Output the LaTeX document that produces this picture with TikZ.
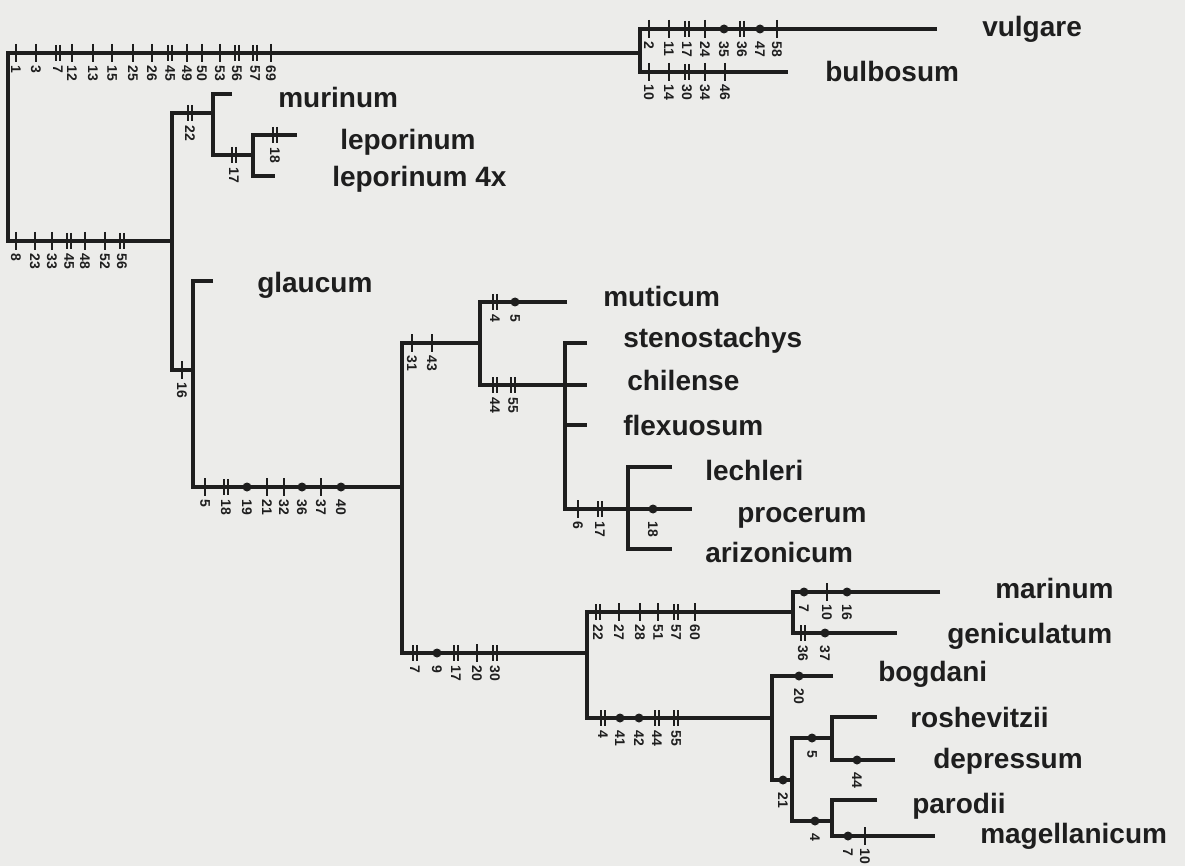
\documentclass[tikz,border=0pt]{standalone}
\usepackage{fontspec}
\setmainfont{Liberation Sans}
\definecolor{ink}{HTML}{1E1E1E}
\definecolor{paper}{HTML}{ECECEA}
\newcommand\spfont{\bfseries\fontsize{21}{24}\selectfont}
\newcommand\lbfont{\bfseries\fontsize{10.5}{11}\selectfont}
\tikzset{
  br/.style={draw=ink, line width=2.3pt, line join=miter},
  tick/.style={draw=ink, line width=2.2pt},
  dtick/.style={draw=ink, line width=1.5pt},
  lab/.style={font=\lbfont, text=ink, rotate=-90, anchor=west, inner sep=0pt},
  sp/.style={font=\spfont, text=ink, anchor=base west, inner sep=0pt}
}
\newcommand\Tk[3]{\draw[tick] (#1,#2-9) -- (#1,#2+9); \node[lab] (m#1x#2) at (#1,#2+12) {#3};}
\newcommand\Dk[3]{\draw[dtick] (#1-2,#2-8) -- (#1-2,#2+8) (#1+2,#2-8) -- (#1+2,#2+8); \node[lab] (m#1x#2) at (#1,#2+12) {#3};}
\newcommand\Dt[3]{\fill[ink] (#1,#2) circle[radius=4.5]; \node[lab] (m#1x#2) at (#1,#2+12) {#3};}
\begin{document}
\begin{tikzpicture}[x=0.75pt,y=-0.75pt]
\fill[paper] (0,0) rectangle (1185,866);
\useasboundingbox (0,0) rectangle (1185,866);
% internal nodes
\coordinate (root) at (8,147);
\coordinate (A) at (640,53);
\coordinate (B) at (172,241);
\coordinate (C) at (213,113);
\coordinate (D) at (253,155);
\coordinate (E) at (193,370);
\coordinate (F) at (402,487);
\coordinate (G) at (480,343);
\coordinate (H) at (565,385);
\coordinate (I) at (628,509);
\coordinate (J) at (587,653);
\coordinate (K) at (793,612);
\coordinate (L) at (772,718);
\coordinate (M) at (792,780);
\coordinate (N) at (832,738);
\coordinate (O) at (832,821);
% tips
\coordinate (vul) at (937,29);
\coordinate (bul) at (788,72);
\coordinate (mur) at (232,94);
\coordinate (lep) at (297,135);
\coordinate (lepf) at (275,176);
\coordinate (gla) at (213,281);
\coordinate (mut) at (567,302);
\coordinate (ste) at (587,343);
\coordinate (chi) at (587,385);
\coordinate (fle) at (587,425);
\coordinate (lec) at (672,467);
\coordinate (pro) at (692,509);
\coordinate (ari) at (672,549);
\coordinate (mar) at (940,592);
\coordinate (gen) at (897,633);
\coordinate (bog) at (833,676);
\coordinate (ros) at (877,717);
\coordinate (dep) at (895,760);
\coordinate (par) at (877,800);
\coordinate (mag) at (935,836);
% branches
\draw[br] (A) -| (root) |- (B);
\draw[br] (vul) -| (A) |- (bul);
\draw[br] (C) -| (B) |- (E);
\draw[br] (mur) -| (C) |- (D);
\draw[br] (lep) -| (D) |- (lepf);
\draw[br] (gla) -| (E) |- (F);
\draw[br] (G) -| (F) |- (J);
\draw[br] (mut) -| (G) |- (H);
\draw[br] (ste) -| (H) |- (I);
\draw[br] (H) -- (chi);
\draw[br] (H |- fle) -- (fle);
\draw[br] (lec) -| (I) |- (ari);
\draw[br] (I) -- (pro);
\draw[br] (K) -| (J) |- (L);
\draw[br] (mar) -| (K) |- (gen);
\draw[br] (bog) -| (L) |- (M);
\draw[br] (N) -| (M) |- (O);
\draw[br] (ros) -| (N) |- (dep);
\draw[br] (par) -| (O) |- (mag);
% species labels
\node[sp] (t-vul) at (982,37) {vulgare};
\node[sp] (t-bul) at (825,82) {bulbosum};
\node[sp] (t-mur) at (278,108) {murinum};
\node[sp] (t-lep) at (340,150) {leporinum};
\node[sp] (t-lepf) at (332,187) {leporinum 4x};
\node[sp] (t-gla) at (257,293) {glaucum};
\node[sp] (t-mut) at (603,306) {muticum};
\node[sp] (t-ste) at (623,347) {stenostachys};
\node[sp] (t-chi) at (627,390) {chilense};
\node[sp] (t-fle) at (623,435) {flexuosum};
\node[sp] (t-lec) at (705,480) {lechleri};
\node[sp] (t-pro) at (737,522) {procerum};
\node[sp] (t-ari) at (705,562) {arizonicum};
\node[sp] (t-mar) at (995,598) {marinum};
\node[sp] (t-gen) at (947,643) {geniculatum};
\node[sp] (t-bog) at (878,681) {bogdani};
\node[sp] (t-ros) at (910,727) {roshevitzii};
\node[sp] (t-dep) at (933,768) {depressum};
\node[sp] (t-par) at (912,813) {parodii};
\node[sp] (t-mag) at (980,843) {magellanicum};
% marks: top root branch
\Tk{16}{53}{1} \Tk{36}{53}{3} \Dk{58}{53}{7} \Tk{72}{53}{12} \Tk{93}{53}{13}
\Tk{112}{53}{15} \Tk{133}{53}{25} \Tk{152}{53}{26} \Dk{170}{53}{45} \Tk{187}{53}{49}
\Tk{202}{53}{50} \Tk{220}{53}{53} \Dk{237}{53}{56} \Dk{255}{53}{57} \Tk{271}{53}{69}
% bottom root branch
\Tk{16}{241}{8} \Tk{35}{241}{23} \Tk{52}{241}{33} \Dk{69}{241}{45} \Tk{85}{241}{48}
\Tk{105}{241}{52} \Dk{122}{241}{56}
% vulgare / bulbosum
\Tk{649}{29}{2} \Tk{669}{29}{11} \Dk{687}{29}{17} \Tk{705}{29}{24} \Dt{724}{29}{35}
\Dk{742}{29}{36} \Dt{760}{29}{47} \Tk{777}{29}{58}
\Tk{649}{72}{10} \Tk{669}{72}{14} \Dk{687}{72}{30} \Tk{705}{72}{34} \Tk{725}{72}{46}
% murinum clade
\Dk{190}{113}{22} \Dk{234}{155}{17} \Dk{275}{135}{18}
% glaucum clade
\Tk{182}{370}{16}
\Tk{205}{487}{5} \Dk{226}{487}{18} \Dt{247}{487}{19} \Tk{267}{487}{21} \Tk{284}{487}{32}
\Dt{302}{487}{36} \Tk{321}{487}{37} \Dt{341}{487}{40}
\Tk{412}{343}{31} \Tk{432}{343}{43}
\Dk{495}{302}{4} \Dt{515}{302}{5}
\Dk{495}{385}{44} \Dk{513}{385}{55}
\Tk{578}{509}{6} \Dk{600}{509}{17} \Dt{653}{509}{18}
\Dk{415}{653}{7} \Dt{437}{653}{9} \Dk{456}{653}{17} \Tk{477}{653}{20} \Dk{495}{653}{30}
\Dk{598}{612}{22} \Tk{619}{612}{27} \Tk{640}{612}{28} \Tk{658}{612}{51} \Dk{676}{612}{57}
\Tk{695}{612}{60}
\Dt{804}{592}{7} \Tk{827}{592}{10} \Dt{847}{592}{16}
\Dk{803}{633}{36} \Dt{825}{633}{37}
\Dt{799}{676}{20}
\Dk{603}{718}{4} \Dt{620}{718}{41} \Dt{639}{718}{42} \Dk{657}{718}{44} \Dk{676}{718}{55}
\Dt{783}{780}{21}
\Dt{812}{738}{5} \Dt{857}{760}{44}
\Dt{815}{821}{4}
\Dt{848}{836}{7} \Tk{865}{836}{10}
\end{tikzpicture}
\end{document}
